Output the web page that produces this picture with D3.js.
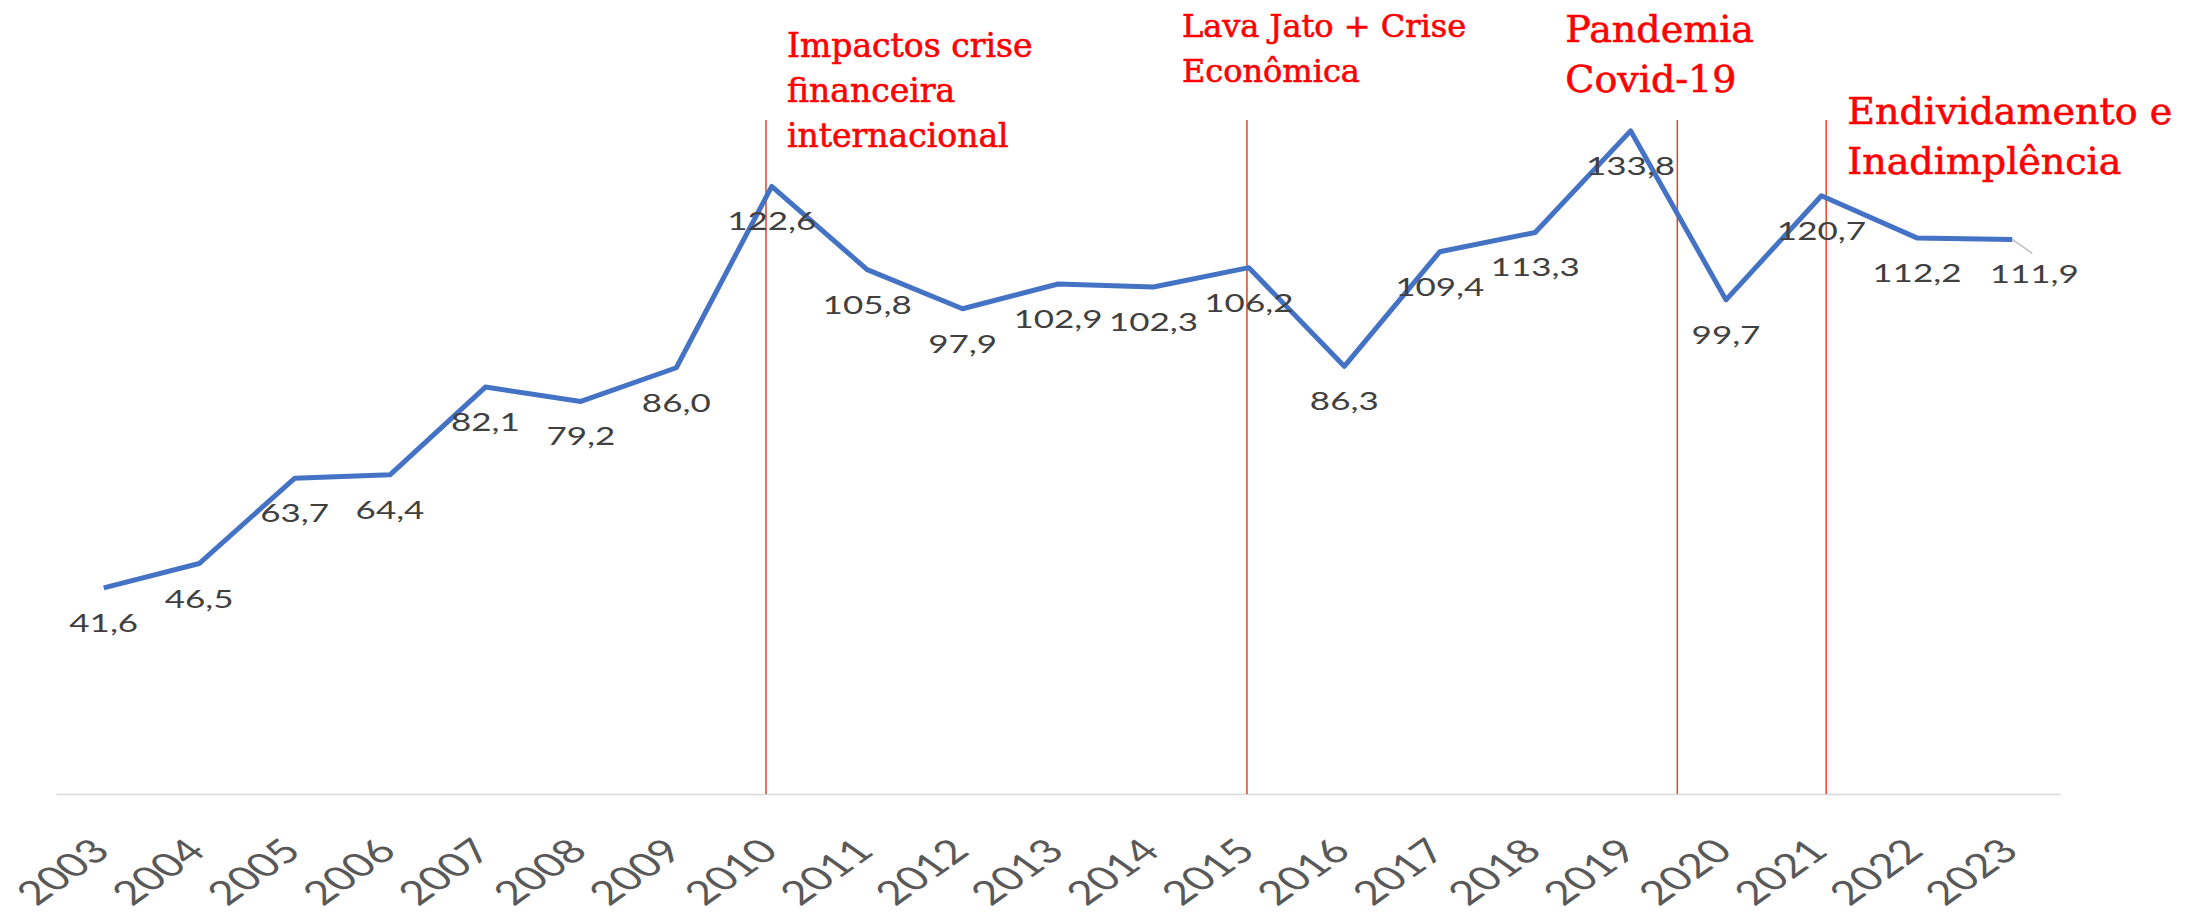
<!DOCTYPE html>
<html>
<head>
<meta charset="utf-8">
<script src="https://cdn.jsdelivr.net/npm/d3@7"></script>
<style>
  body { margin: 0; background: #fff; }
</style>
</head>
<body>
<div id="chart"></div>
<script>
// values of the series, one per year
var years = [2003, 2004, 2005, 2006, 2007, 2008, 2009, 2010, 2011, 2012, 2013,
             2014, 2015, 2016, 2017, 2018, 2019, 2020, 2021, 2022, 2023];
var values = [41.6, 46.5, 63.7, 64.4, 82.1, 79.2, 86.0, 122.6, 105.8, 97.9, 102.9,
              102.3, 106.2, 86.3, 109.4, 113.3, 133.8, 99.7, 120.7, 112.2, 111.9];

// events marked with a red vertical line (year position) and their texts
var eventYears = [2009.94, 2014.98, 2019.49, 2021.05];
var eventTexts = [
    ["Impactos crise", "financeira", "internacional"],
    ["Lava Jato + Crise", "Econômica"],
    ["Pandemia", "Covid-19"],
    ["Endividamento e", "Inadimplência"]
];
var eventTop = 136; // top of the red lines, in chart units

var width = 2204;
var height = 917;
var plot = {left: 56, right: 2060, top: 1, bottom: 794};
var stretch = 1.4; // the chart texts are stretched horizontally

var svg = d3.select("#chart").append("svg")
            .attr("width", width)
            .attr("height", height)
            .style("background", "#fff");

var xScale = d3.scaleLinear()
               .domain([years[0] - 0.5, years[years.length - 1] + 0.5])
               .range([plot.left, plot.right]);

var yScale = d3.scaleLinear()
               .domain([0, 160])
               .range([plot.bottom, plot.top]);

// x axis: light grey line, rotated year labels
var xAxis = svg.append("g")
    .attr("transform", "translate(0," + plot.bottom + ")")
    .call(d3.axisBottom(xScale).tickValues(years).tickFormat(d3.format("d")).tickSize(0).tickSizeOuter(0));

xAxis.select(".domain")
    .attr("stroke", "#d9d9d9")
    .attr("stroke-width", 1.5);

xAxis.selectAll("text")
    .attr("x", 0)
    .attr("y", 0)
    .attr("dy", 0)
    .attr("transform", "translate(8,59) scale(" + stretch + ",1) rotate(-45)")
    .style("text-anchor", "end")
    .attr("font-family", "Lato, 'Noto Sans', sans-serif")
    .attr("font-size", 33)
    .attr("fill", "#595959");

// red vertical lines for the events
svg.selectAll(".event-line")
    .data(eventYears)
    .enter()
    .append("line")
        .attr("class", "event-line")
        .attr("x1", d => xScale(d))
        .attr("x2", d => xScale(d))
        .attr("y1", yScale(eventTop))
        .attr("y2", yScale(0))
        .attr("stroke", "#e0451f")
        .attr("stroke-width", 1.5);

// the series line
var line = d3.line()
    .x((d, i) => xScale(years[i]))
    .y(d => yScale(d));

svg.append("path")
    .datum(values)
    .attr("d", line)
    .attr("fill", "none")
    .attr("stroke", "#4472c4")
    .attr("stroke-width", 5)
    .attr("stroke-linejoin", "round");

// leader line of the last label, it was pulled a bit to the right
var last = values.length - 1;
var lastShift = 22;
svg.append("line")
    .attr("x1", xScale(years[last]))
    .attr("y1", yScale(values[last]))
    .attr("x2", xScale(years[last]) + lastShift - 2)
    .attr("y2", yScale(values[last]) + 14)
    .attr("stroke", "#bfbfbf")
    .attr("stroke-width", 1.5);

// data labels under each point
var fmt = d3.format(".1f");
svg.selectAll(".value-label")
    .data(values)
    .enter()
    .append("text")
        .attr("class", "value-label")
        .attr("transform", function(d, i) {
            var x = xScale(years[i]) + (i == last ? lastShift : 0);
            return "translate(" + x + "," + (yScale(d) + 44) + ") scale(" + stretch + ",1)";
        })
        .attr("text-anchor", "middle")
        .attr("font-family", "Lato, 'Noto Sans', sans-serif")
        .attr("font-size", 25)
        .attr("fill", "#404040")
        .text(d => fmt(d).replace(".", ","));

// event annotations (placed by hand, relative to their line)
var textLayout = [
    {dx: 21, y: 57, size: 33, lead: 45},
    {dx: -65, y: 37, size: 32, lead: 45},
    {dx: -112, y: 42, size: 38, lead: 50},
    {dx: 21, y: 124, size: 38, lead: 50}
];

eventTexts.forEach(function(lines, k) {
    var lay = textLayout[k];
    var t = svg.append("text")
        .attr("x", xScale(eventYears[k]) + lay.dx)
        .attr("y", lay.y)
        .attr("font-family", "'DejaVu Serif', serif")
        .attr("font-size", lay.size)
        .attr("fill", "#ff0000")
        .attr("stroke", "#ff0000")
        .attr("stroke-width", 0.6);
    t.selectAll("tspan")
        .data(lines)
        .enter()
        .append("tspan")
            .attr("x", xScale(eventYears[k]) + lay.dx)
            .attr("dy", (d, i) => i == 0 ? 0 : lay.lead)
            .text(d => d);
});
</script>
</body>
</html>
